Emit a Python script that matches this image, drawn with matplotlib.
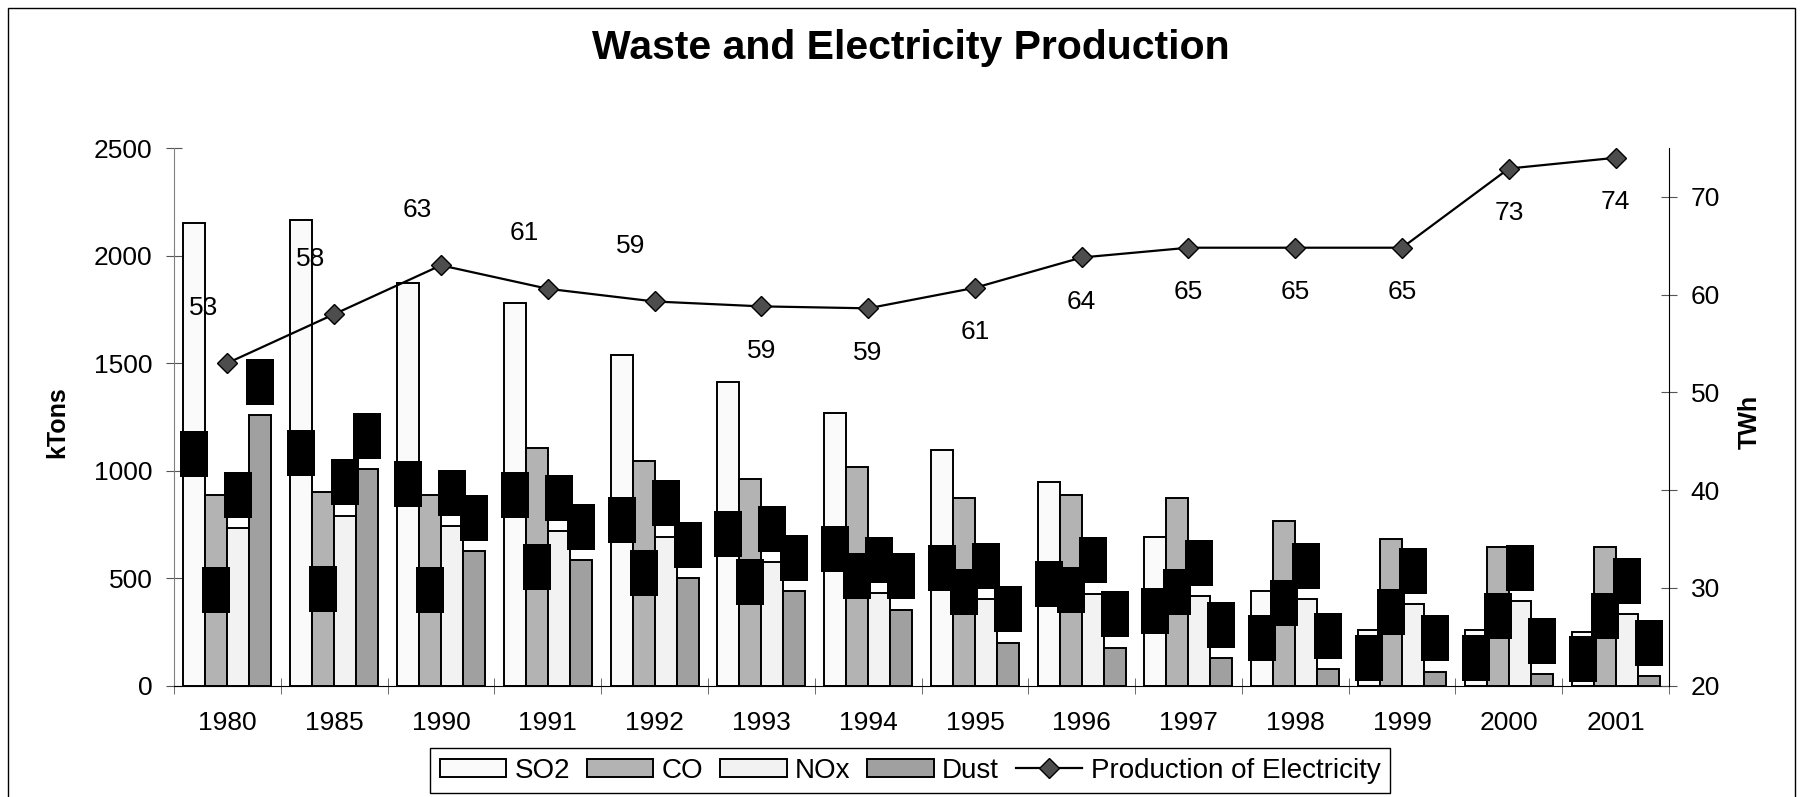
import matplotlib.pyplot as plt
import matplotlib.transforms as mtransforms
import numpy as np
from matplotlib.patches import Rectangle
from matplotlib.path import Path

plt.rcParams["font.family"] = ["Liberation Sans", "DejaVu Sans"]

years = ["1980", "1985", "1990", "1991", "1992", "1993", "1994",
         "1995", "1996", "1997", "1998", "1999", "2000", "2001"]
so2 = [2150, 2163, 1872, 1777, 1536, 1414, 1270, 1096, 946, 693, 440, 258, 258, 248]
co = [888, 900, 888, 1103, 1044, 960, 1017, 874, 886, 874, 766, 681, 645, 645]
nox = [731, 791, 742, 719, 693, 573, 430, 401, 427, 415, 401, 378, 392, 332]
dust = [1258, 1006, 625, 585, 501, 440, 354, 200, 177, 129, 77, 65, 53, 45]
electricity = [53.0, 58.0, 63.0, 60.6, 59.3, 58.8, 58.6, 60.7, 63.8, 64.8, 64.8, 64.8, 72.9, 74.0]

series = [("SO2", so2, "#FAFAFA"), ("CO", co, "#B3B3B3"),
          ("NOx", nox, "#F2F2F2"), ("Dust", dust, "#A0A0A0")]
label_offsets = [(-17, 40)] * 5 + [(0, -32)] * 9

fig = plt.figure(figsize=(18.03, 7.97), dpi=100)
ax = fig.add_axes([0.0965, 0.1397, 0.8292, 0.6746])
ax2 = ax.twinx()

x = np.arange(len(years))
width = 0.206
box = Path([(-0.61, -1), (0.61, -1), (0.61, 1), (-0.61, 1), (-0.61, -1)])
above = mtransforms.offset_copy(ax.transData, fig=fig, y=24, units="points")

for k, (name, values, color) in enumerate(series):
    pos = x + (k - 1.5) * width
    ax.bar(pos, values, width, color=color, edgecolor="black", linewidth=1.4,
           label=name, zorder=2)
    vals = np.array(values, dtype=float)
    # hidden data labels render as black blocks in the original
    if k < 2:
        ax.plot(pos, vals / 2, ls="none", marker=box, ms=33, color="black",
                mew=0, zorder=3)
    else:
        ax.plot(pos, vals, ls="none", marker=box, ms=33, color="black",
                mew=0, zorder=3, transform=above)

ax2.plot(x, electricity, color="black", lw=1.6, marker="D", ms=10,
         mfc="#4D4D4D", mec="black", mew=1, label="Production of Electricity")
for xi, v, (dx, dy) in zip(x, electricity, label_offsets):
    ax2.annotate(f"{v:.0f}", (xi, v), xytext=(dx, dy), textcoords="offset points",
                 ha="center", va="center", fontsize=19)

ax.set_xlim(-0.5, len(years) - 0.5)
ax.set_ylim(0, 2500)
ax.set_yticks(np.arange(0, 2501, 500))
ax2.set_ylim(20, 75)
ax2.set_yticks(np.arange(20, 71, 10))

ax.set_xticks(x)
ax.set_xticklabels(years)
ax.set_xticks(np.arange(len(years) + 1) - 0.5, minor=True)
ax.tick_params(axis="x", which="major", length=0, pad=18, labelsize=19)
ax.tick_params(axis="x", which="minor", direction="inout", length=11, color="#555555")
ax.tick_params(axis="y", direction="inout", length=11, pad=10, labelsize=19, color="#555555")
ax2.tick_params(axis="y", direction="inout", length=11, pad=10, labelsize=19, color="#555555")

for a in (ax, ax2):
    a.spines["top"].set_visible(False)
ax.spines["right"].set_visible(False)
ax.spines["left"].set_color("#808080")
ax2.spines["left"].set_visible(False)
ax2.spines["bottom"].set_visible(False)

ax.set_ylabel("kTons", fontsize=18, fontweight="bold")
ax.yaxis.set_label_coords(-0.0783, 0.49)
ax.yaxis.label.set_va("center")
ax2.set_ylabel("TWh", fontsize=18, fontweight="bold")
ax2.yaxis.set_label_coords(1.054, 0.49)
ax2.yaxis.label.set_va("center")

fig.text(0.505, 1 - 48 / 797, "Waste and Electricity Production",
         ha="center", va="center", fontsize=29.5, fontweight="bold")

handles, labels = ax.get_legend_handles_labels()
h2, l2 = ax2.get_legend_handles_labels()
leg = fig.legend(handles + h2, labels + l2, loc="upper center",
                 bbox_to_anchor=(0.5047, 1 - 748 / 797), ncol=5, fontsize=20,
                 frameon=True, fancybox=False, edgecolor="black", framealpha=1,
                 handlelength=2.4, handleheight=0.6, handletextpad=0.3,
                 columnspacing=0.6, borderpad=0.35, borderaxespad=0)
leg.get_frame().set_linewidth(1)

fig.add_artist(Rectangle((8 / 1803, -0.05), 1787 / 1803, 1.05 - 8 / 797,
                         transform=fig.transFigure, fill=False,
                         edgecolor="black", linewidth=1))

fig.savefig("out.png", dpi=100)
